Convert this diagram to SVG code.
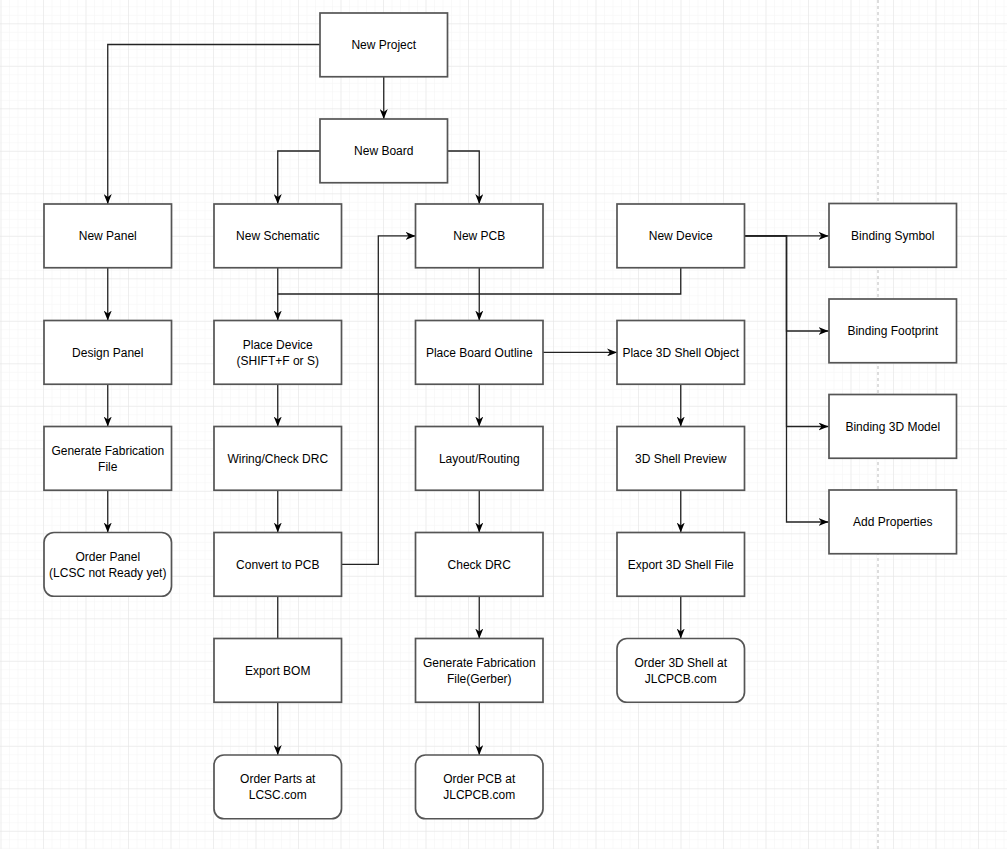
<svg xmlns="http://www.w3.org/2000/svg" width="1007" height="849" viewBox="0 0 1007 849">
<defs>
<pattern id="minor" patternUnits="userSpaceOnUse" x="43" y="23.3" width="8.5" height="8.5">
<path d="M0,0 H8.5 M0,0 V8.5" stroke="#f3f3f3" stroke-width="1" fill="none"/>
</pattern>
<pattern id="major" patternUnits="userSpaceOnUse" x="43" y="23.3" width="42.5" height="42.5">
<path d="M0,0 H42.5 M0,0 V42.5" stroke="#e3e3e3" stroke-width="1" fill="none"/>
</pattern>
<marker id="arr" markerUnits="userSpaceOnUse" markerWidth="10" markerHeight="8" refX="10" refY="4" orient="auto">
<path d="M0,0 L10,4 L0,8 L3,4 Z" fill="#000"/>
</marker>
</defs>
<style>
.box{fill:#fff;stroke:#555;stroke-width:1.7}
.t{font-family:"Liberation Sans",Arial,sans-serif;font-size:12px;fill:#000;text-anchor:middle}
.c{fill:none;stroke:#222;stroke-width:1.3}
.a{marker-end:url(#arr)}
</style>
<rect width="1007" height="849" fill="#fff"/>
<rect width="1007" height="849" fill="url(#minor)"/>
<rect width="1007" height="849" fill="url(#major)"/>
<line x1="878" y1="0" x2="878" y2="849" stroke="#bbb" stroke-width="1" stroke-dasharray="3,3"/>

<g id="connectors">
<path class="c a" d="M320,44.5 H107.75 V204"/>
<path class="c a" d="M383.75,76.75 V119"/>
<path class="c a" d="M320,151 H277.75 V204"/>
<path class="c a" d="M447.25,151 H479.25 V204"/>
<path class="c a" d="M107.75,267.75 V320.5"/>
<path class="c a" d="M107.75,384.25 V426.5"/>
<path class="c a" d="M107.75,490.25 V532.5"/>
<path class="c a" d="M277.75,267.75 V320.5"/>
<path class="c" d="M680.75,267.75 V294 H277.75"/>
<path class="c a" d="M479.25,267.75 V320.5"/>
<path class="c a" d="M277.75,384.25 V426.5"/>
<path class="c a" d="M277.75,490.25 V532.5"/>
<path class="c a" d="M341.5,564.4 H378.3 V235.9 H415.5"/>
<path class="c" d="M277.75,596.25 V638.5"/>
<path class="c a" d="M277.75,702.25 V755"/>
<path class="c a" d="M543,352.4 H617"/>
<path class="c a" d="M479.25,384.25 V426.5"/>
<path class="c a" d="M479.25,490.25 V532.5"/>
<path class="c a" d="M479.25,596.25 V638.5"/>
<path class="c a" d="M479.25,702.25 V755"/>
<path class="c a" d="M680.75,384.25 V426.5"/>
<path class="c a" d="M680.75,490.25 V532.5"/>
<path class="c a" d="M680.75,596.25 V638.5"/>
<path class="c a" d="M744.5,235.9 H828.5"/>
<path class="c a" d="M744.5,235.9 H786.5 V331 H828.5"/>
<path class="c a" d="M744.5,235.9 H786.5 V426.5 H828.5"/>
<path class="c a" d="M744.5,235.9 H786.5 V522 H828.5"/>
</g>

<g id="new-project"><rect class="box" x="320" y="13" width="127.5" height="63.75"/><text class="t" x="383.75" y="49">New Project</text></g>
<g id="new-board"><rect class="box" x="320" y="119" width="127.5" height="63.75"/><text class="t" x="383.75" y="155">New Board</text></g>

<g id="new-panel"><rect class="box" x="44" y="204" width="127.5" height="63.75"/><text class="t" x="107.75" y="240">New Panel</text></g>
<g id="design-panel"><rect class="box" x="44" y="320.5" width="127.5" height="63.75"/><text class="t" x="107.75" y="356.5">Design Panel</text></g>
<g id="gen-fab-panel"><rect class="box" x="44" y="426.5" width="127.5" height="63.75"/><text class="t" x="107.75" y="454.5">Generate Fabrication</text><text class="t" x="107.75" y="470.5">File</text></g>
<g id="order-panel"><rect class="box" x="44" y="532.5" width="127.5" height="63.75" rx="10"/><text class="t" x="107.75" y="560.5">Order Panel</text><text class="t" x="107.75" y="576.5">(LCSC not Ready yet)</text></g>

<g id="new-schematic"><rect class="box" x="214" y="204" width="127.5" height="63.75"/><text class="t" x="277.75" y="240">New Schematic</text></g>
<g id="place-device"><rect class="box" x="214" y="320.5" width="127.5" height="63.75"/><text class="t" x="277.75" y="348.5">Place Device</text><text class="t" x="277.75" y="364.5">(SHIFT+F or S)</text></g>
<g id="wiring"><rect class="box" x="214" y="426.5" width="127.5" height="63.75"/><text class="t" x="277.75" y="462.5">Wiring/Check DRC</text></g>
<g id="convert-pcb"><rect class="box" x="214" y="532.5" width="127.5" height="63.75"/><text class="t" x="277.75" y="568.5">Convert to PCB</text></g>
<g id="export-bom"><rect class="box" x="214" y="638.5" width="127.5" height="63.75"/><text class="t" x="277.75" y="674.5">Export BOM</text></g>
<g id="order-parts"><rect class="box" x="214" y="755" width="127.5" height="63.75" rx="10"/><text class="t" x="277.75" y="783">Order Parts at</text><text class="t" x="277.75" y="799">LCSC.com</text></g>

<g id="new-pcb"><rect class="box" x="415.5" y="204" width="127.5" height="63.75"/><text class="t" x="479.25" y="240">New PCB</text></g>
<g id="place-outline"><rect class="box" x="415.5" y="320.5" width="127.5" height="63.75"/><text class="t" x="479.25" y="356.5">Place Board Outline</text></g>
<g id="layout"><rect class="box" x="415.5" y="426.5" width="127.5" height="63.75"/><text class="t" x="479.25" y="462.5">Layout/Routing</text></g>
<g id="check-drc"><rect class="box" x="415.5" y="532.5" width="127.5" height="63.75"/><text class="t" x="479.25" y="568.5">Check DRC</text></g>
<g id="gen-fab-gerber"><rect class="box" x="415.5" y="638.5" width="127.5" height="63.75"/><text class="t" x="479.25" y="666.5">Generate Fabrication</text><text class="t" x="479.25" y="682.5">File(Gerber)</text></g>
<g id="order-pcb"><rect class="box" x="415.5" y="755" width="127.5" height="63.75" rx="10"/><text class="t" x="479.25" y="783">Order PCB at</text><text class="t" x="479.25" y="799">JLCPCB.com</text></g>

<g id="new-device"><rect class="box" x="617" y="204" width="127.5" height="63.75"/><text class="t" x="680.75" y="240">New Device</text></g>
<g id="place-3d"><rect class="box" x="617" y="320.5" width="127.5" height="63.75"/><text class="t" x="680.75" y="356.5">Place 3D Shell Object</text></g>
<g id="preview-3d"><rect class="box" x="617" y="426.5" width="127.5" height="63.75"/><text class="t" x="680.75" y="462.5">3D Shell Preview</text></g>
<g id="export-3d"><rect class="box" x="617" y="532.5" width="127.5" height="63.75"/><text class="t" x="680.75" y="568.5">Export 3D Shell File</text></g>
<g id="order-3d"><rect class="box" x="617" y="638.5" width="127.5" height="63.75" rx="10"/><text class="t" x="680.75" y="666.5">Order 3D Shell at</text><text class="t" x="680.75" y="682.5">JLCPCB.com</text></g>

<g id="binding-symbol"><rect class="box" x="829" y="203.5" width="127.5" height="63.75"/><text class="t" x="892.75" y="239.5">Binding Symbol</text></g>
<g id="binding-footprint"><rect class="box" x="829" y="299" width="127.5" height="63.75"/><text class="t" x="892.75" y="335">Binding Footprint</text></g>
<g id="binding-3d"><rect class="box" x="829" y="394.5" width="127.5" height="63.75"/><text class="t" x="892.75" y="430.5">Binding 3D Model</text></g>
<g id="add-properties"><rect class="box" x="829" y="490" width="127.5" height="63.75"/><text class="t" x="892.75" y="526">Add Properties</text></g>
</svg>
